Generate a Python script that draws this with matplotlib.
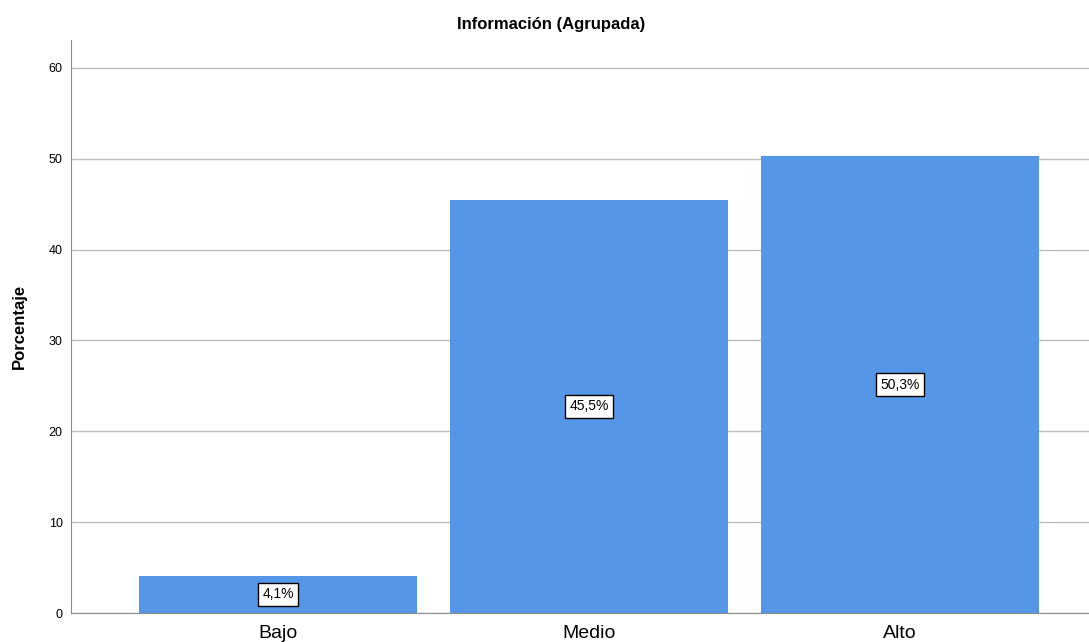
import matplotlib.pyplot as plt

categories = ["Bajo", "Medio", "Alto"]
percentages = [4.1, 45.5, 50.3]
value_labels = ["4,1%", "45,5%", "50,3%"]
yticks = [0, 10, 20, 30, 40, 50, 60]

plt.rcParams["font.family"] = ["Liberation Sans", "DejaVu Sans"]

fig = plt.figure(figsize=(10.89, 6.42), dpi=100)
ax = fig.add_axes([71 / 1089, 29 / 642, 1 - 71 / 1089, 573 / 642])

x = list(range(len(categories)))
ax.bar(x, percentages, width=0.894, color="#5596e6", zorder=2)

# value boxes sit at half the bar height
for xi, val, lab in zip(x, percentages, value_labels):
    ax.text(xi, val / 2, lab, ha="center", va="center", fontsize=10, zorder=3,
            bbox=dict(boxstyle="square,pad=0.3", facecolor="white",
                      edgecolor="black", linewidth=1))

ax.set_xlim(-0.666, 2.608)
ax.set_ylim(0, 63.08)
ax.set_yticks(yticks)
ax.set_xticks(x)
ax.set_xticklabels(categories, fontsize=14)
ax.tick_params(axis="y", labelsize=9, length=0, pad=6)
ax.tick_params(axis="x", length=0, pad=9)
ax.yaxis.grid(True, color="#bdbdbd", linewidth=1, zorder=0)
ax.set_axisbelow(True)

for side in ["top", "right"]:
    ax.spines[side].set_visible(False)
ax.spines["left"].set_color("#8c8c8c")
ax.spines["bottom"].set_color("#8c8c8c")

ax.set_ylabel("Porcentaje", fontsize=12, fontweight="bold", labelpad=16)
fig.text(551 / 1089, 1 - 24 / 642, "Información (Agrupada)", ha="center",
         va="center", fontsize=12, fontweight="bold")

fig.savefig("out.png", dpi=100)
